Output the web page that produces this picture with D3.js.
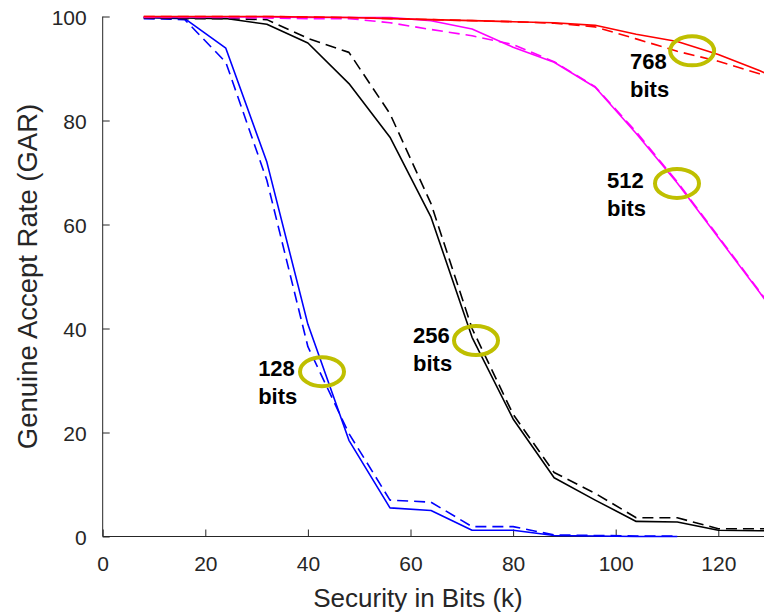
<!DOCTYPE html>
<html>
<head>
<meta charset="utf-8">
<script src="https://cdn.jsdelivr.net/npm/d3@7"></script>
<style>
  html, body { margin: 0; padding: 0; background: #fff; overflow: hidden; }
  svg { display: block; }
  text { font-family: "Liberation Sans", Arial, Helvetica, sans-serif; }
</style>
</head>
<body>
<svg id="chart" width="764" height="615"></svg>
<script>
// ---- data ----
const xBits = [8, 16, 24, 32, 40, 48, 56, 64, 72, 80, 88, 96, 104, 112, 120, 128, 136];

const blueSolid    = [99.8, 99.6, 93.9, 72.0, 40.8, 18.5, 5.5, 5.0, 1.2, 1.2, 0.2, 0.1, 0.0, 0.0];
const blueDashed   = [99.6, 99.4, 91.2, 68.5, 36.5, 19.8, 7.0, 6.6, 1.9, 1.9, 0.3, 0.2, 0.1, 0.1];
const blackSolid   = [99.8, 99.7, 99.6, 98.5, 94.9, 87.1, 76.8, 61.4, 38.3, 22.6, 11.3, 7.0, 2.9, 2.8, 1.2, 1.1, 1.1];
const blackDashed  = [99.7, 99.6, 99.6, 99.4, 95.8, 93.1, 81.3, 64.0, 40.0, 23.5, 12.3, 8.3, 3.6, 3.6, 1.5, 1.5, 1.5];
const magentaSolid = [99.9, 99.9, 99.9, 99.9, 99.8, 99.8, 99.8, 99.2, 97.6, 94.1, 91.2, 86.4, 77.5, 68.0, 57.5, 47.0, 36.5];
const magentaDashed= [99.8, 99.8, 99.8, 99.7, 99.6, 99.6, 98.8, 97.5, 96.3, 94.6, 91.3, 86.5, 77.8, 68.2, 57.7, 47.2, 36.8];
const redSolid     = [100, 100, 100, 100, 99.9, 99.8, 99.6, 99.4, 99.2, 99.0, 98.8, 98.3, 96.6, 95.2, 92.7, 89.6, 86.0];
const redDashed    = [100, 100, 100, 100, 99.9, 99.8, 99.6, 99.4, 99.2, 99.0, 98.7, 98.0, 95.7, 93.3, 91.4, 89.0, 86.5];

const xTicks = [0, 20, 40, 60, 80, 100, 120];
const yTicks = [0, 20, 40, 60, 80, 100];
const xTitle = "Security in Bits (k)";
const yTitle = "Genuine Accept Rate (GAR)";

const annLabels = ["128", "256", "512", "768"];
const annCircleX = [42.75, 72.77, 111.95, 114.9];
const annCircleY = [31.7, 37.7, 67.9, 93.4];
const annTextX = [30.3, 60.5, 98.3, 102.8];
const annTextY = [30.9, 37.2, 67.0, 89.9];

// ---- layout ----
const svg = d3.select("#chart");
const x = d3.scaleLinear().domain([0, 130]).range([102.7, 769.6]);
const y = d3.scaleLinear().domain([0, 100]).range([536.5, 16.5]);
const axisColor = "#262626";

const series = [
  { v: blueSolid,     c: "#0000ff", dash: null },
  { v: blueDashed,    c: "#0000ff", dash: "11,6" },
  { v: blackSolid,    c: "#000000", dash: null },
  { v: blackDashed,   c: "#000000", dash: "11,6" },
  { v: magentaSolid,  c: "#ff00ff", dash: null },
  { v: magentaDashed, c: "#ff00ff", dash: "11,6" },
  { v: redSolid,      c: "#ff0000", dash: null },
  { v: redDashed,     c: "#ff0000", dash: "11,6" }
];

svg.append("defs").append("clipPath").attr("id", "clip")
  .append("rect").attr("x", x(0)).attr("y", 0)
  .attr("width", x(130) - x(0)).attr("height", y(0) + 2);

// axes
const xAxis = d3.axisBottom(x).tickValues(xTicks).tickSize(-7).tickPadding(0).tickFormat(d3.format("d"));
const yAxis = d3.axisLeft(y).tickValues(yTicks).tickSize(-7).tickPadding(0).tickFormat(d3.format("d"));

const gx = svg.append("g").attr("transform", `translate(0,${y(0)})`).call(xAxis);
gx.select(".domain").attr("stroke", axisColor).attr("stroke-width", 1)
  .attr("d", `M${x(0)},0H${x(130)}`);
gx.selectAll(".tick line").attr("stroke", axisColor).attr("stroke-width", 1);
gx.selectAll(".tick text").attr("fill", axisColor).attr("font-size", 21)
  .attr("font-family", "'Liberation Sans', Arial, sans-serif")
  .attr("dy", null).attr("y", 34.5);

const gy = svg.append("g").attr("transform", `translate(${x(0)},0)`).call(yAxis);
gy.select(".domain").attr("stroke", axisColor).attr("stroke-width", 1)
  .attr("d", `M0,${y(0)}V${y(100)}`);
gy.selectAll(".tick line").attr("stroke", axisColor).attr("stroke-width", 1);
gy.selectAll(".tick text").attr("fill", axisColor).attr("font-size", 21)
  .attr("font-family", "'Liberation Sans', Arial, sans-serif")
  .attr("x", -16).attr("dy", "0.36em");

// titles
svg.append("text").attr("x", 418).attr("y", 607).attr("text-anchor", "middle")
  .attr("font-size", 26).attr("fill", axisColor).text(xTitle);
svg.append("text").attr("transform", `translate(37,${(y(0) + y(100)) / 2}) rotate(-90)`)
  .attr("text-anchor", "middle").attr("font-size", 27.5).attr("fill", axisColor).text(yTitle);

// lines
const line = d3.line().x((d, i) => x(xBits[i])).y(d => y(d));
const gl = svg.append("g").attr("clip-path", "url(#clip)");
series.forEach(s => {
  gl.append("path").datum(s.v)
    .attr("d", line)
    .attr("fill", "none")
    .attr("stroke", s.c)
    .attr("stroke-width", 1.6)
    .attr("stroke-linejoin", "round")
    .attr("stroke-dasharray", s.dash);
});

// annotations
const ga = svg.append("g");
annLabels.forEach((lab, i) => {
  ga.append("ellipse").attr("cx", x(annCircleX[i])).attr("cy", y(annCircleY[i]))
    .attr("rx", 22).attr("ry", 14.5).attr("fill", "none")
    .attr("stroke", "#bfbf00").attr("stroke-width", 4);
  const t = ga.append("text").attr("x", x(annTextX[i])).attr("y", y(annTextY[i]))
    .attr("font-size", 22).attr("font-weight", "bold").attr("fill", "#000");
  t.append("tspan").attr("x", x(annTextX[i])).text(lab);
  t.append("tspan").attr("x", x(annTextX[i])).attr("dy", 28).text("bits");
});
</script>
</body>
</html>
